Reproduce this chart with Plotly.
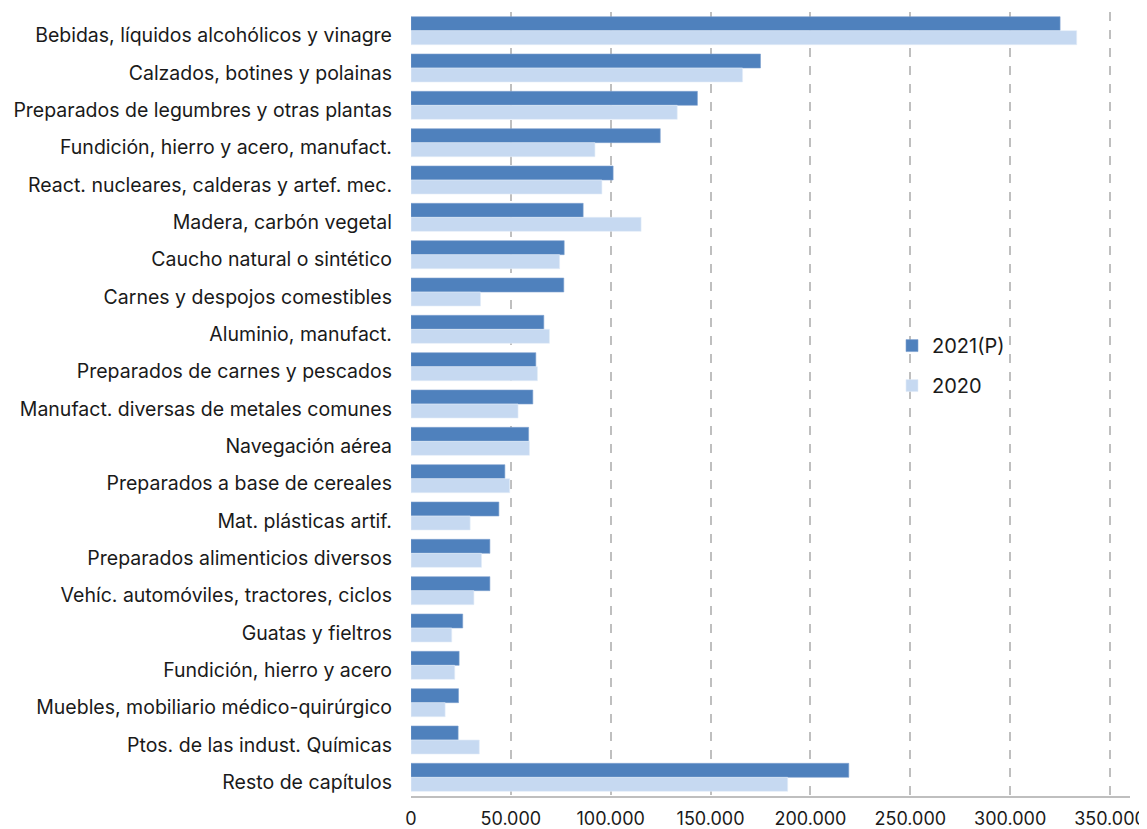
import plotly.graph_objects as go

categories = [
    "Bebidas, líquidos alcohólicos y vinagre",
    "Calzados, botines y polainas",
    "Preparados de legumbres y otras plantas",
    "Fundición, hierro y acero, manufact.",
    "React. nucleares, calderas y artef. mec.",
    "Madera, carbón vegetal",
    "Caucho natural o sintético",
    "Carnes y despojos comestibles",
    "Aluminio, manufact.",
    "Preparados de carnes y pescados",
    "Manufact. diversas de metales comunes",
    "Navegación aérea",
    "Preparados a base de cereales",
    "Mat. plásticas artif.",
    "Preparados alimenticios diversos",
    "Vehíc. automóviles, tractores, ciclos",
    "Guatas y fieltros",
    "Fundición, hierro y acero",
    "Muebles, mobiliario médico-quirúrgico",
    "Ptos. de las indust. Químicas",
    "Resto de capítulos",
]

values_2021 = [325000, 175000, 143400, 124800, 101200, 86200, 76700, 76500, 66500,
               62500, 61000, 58900, 47000, 44000, 39500, 39500, 25900, 24100,
               23800, 23600, 219200]
values_2020 = [333300, 166000, 133300, 92100, 95600, 115200, 74400, 34800, 69300,
               63300, 53600, 59300, 49400, 29600, 35300, 31500, 20400, 21900,
               17100, 34200, 188600]

series_names = ["2021(P)", "2020"]
tick_vals = [0, 50000, 100000, 150000, 200000, 250000, 300000, 350000]

fig = go.Figure()
fig.add_trace(go.Bar(y=categories, x=values_2021, name=series_names[0], orientation="h",
                     marker=dict(color="#4f81bd", line=dict(width=0.6, color="#7fa3d0")),
                     legendgroup="a"))
fig.add_trace(go.Bar(y=categories, x=values_2020, name=series_names[1], orientation="h",
                     marker=dict(color="#c6d9f1", line=dict(width=0.6, color="#e3edf8")),
                     legendgroup="b"))

# page body adds an 8px offset; canvas is sized to fill the rest of the window
fig.update_layout(
    width=1139, height=821,
    margin=dict(l=403, r=17, t=4, b=33, autoexpand=False),
    paper_bgcolor="white", plot_bgcolor="white",
    barmode="group", bargap=0.25, bargroupgap=0,
    separators=",.",
    font=dict(family="Inter, Liberation Sans, Arial, sans-serif", size=19.5, color="#1a1a1a"),
    legend=dict(x=0.669, y=0.549, xanchor="left", yanchor="middle",
                font=dict(size=20), traceorder="grouped", tracegroupgap=11,
                bgcolor="rgba(0,0,0,0)"),
    xaxis=dict(range=[0, 360000], tickvals=tick_vals, tickformat=",d", automargin=False,
               showgrid=True, gridcolor="#bfbfbf", gridwidth=2, griddash="dash",
               zeroline=False, showline=True, linecolor="#bfbfbf", linewidth=1.5,
               ticks="", ticklabelstandoff=6, ticklabeloverflow="allow",
               tickfont=dict(size=18)),
    yaxis=dict(autorange="reversed", showgrid=False, zeroline=False, showline=False,
               automargin=False, ticklabelshift=-5,
               ticks="", ticklabelstandoff=18, tickfont=dict(size=19.5)),
)

fig.write_html("out.html")
